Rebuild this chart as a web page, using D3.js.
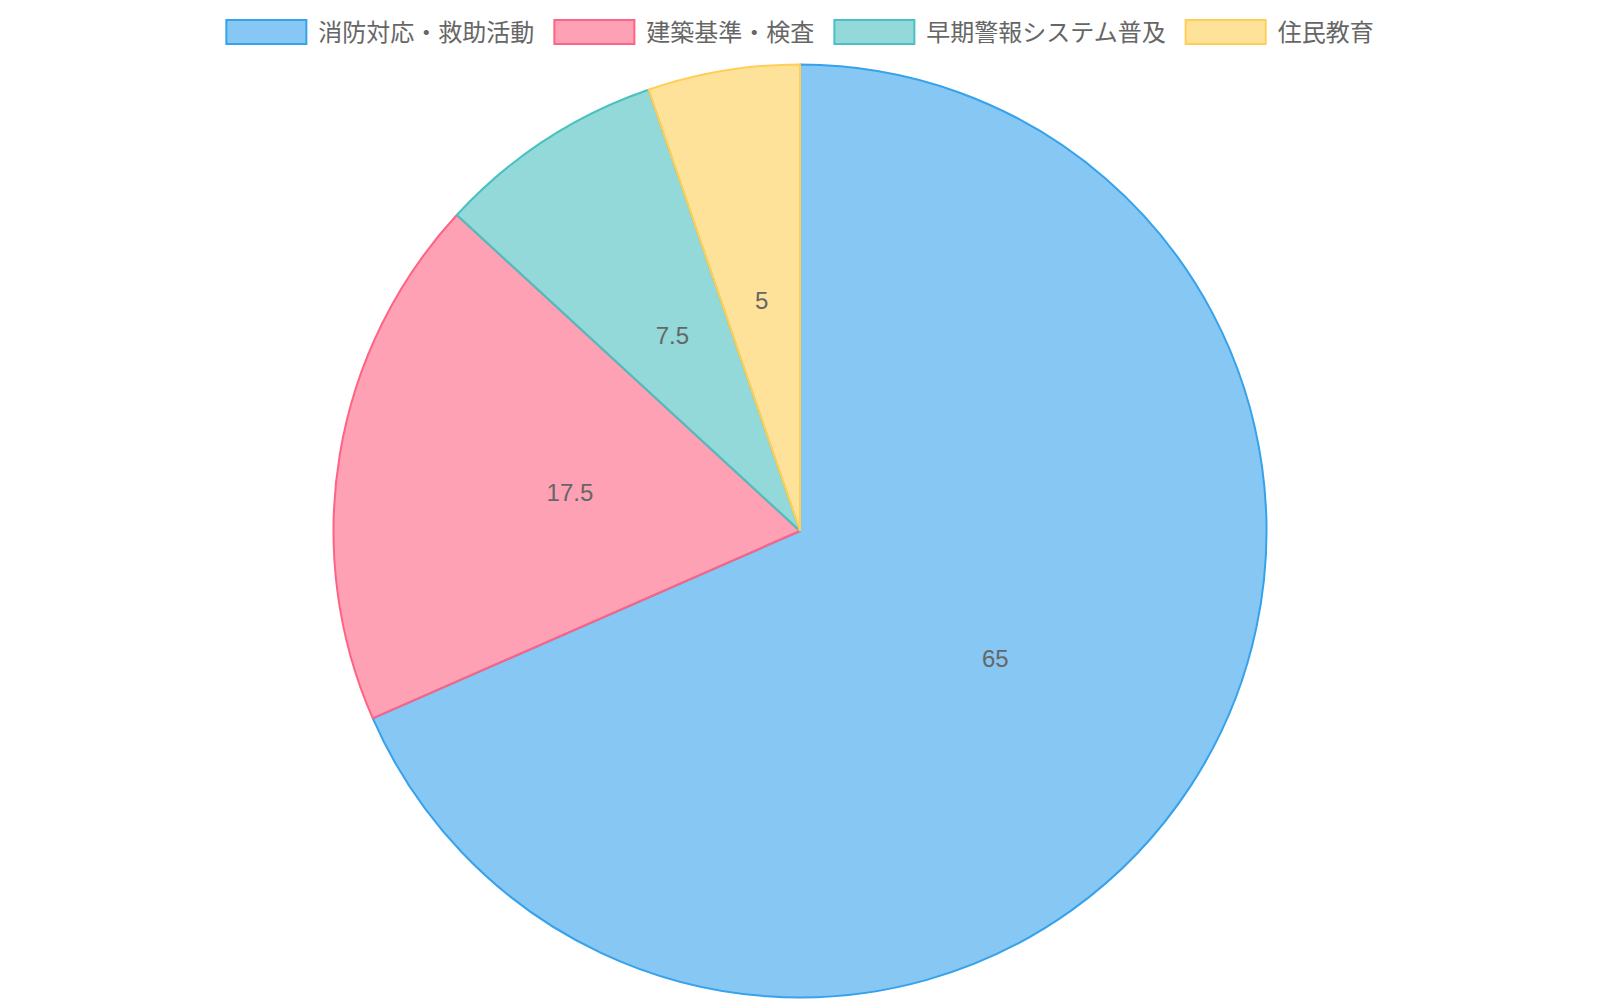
<!DOCTYPE html>
<html>
<head>
<meta charset="utf-8">
<script src="https://cdn.jsdelivr.net/npm/d3@7"></script>
<style>
  html, body { margin: 0; padding: 0; background: #ffffff; }
  svg { display: block; }
  text { font-family: "Liberation Sans", Arial, "Noto Sans CJK JP", sans-serif; fill: #666666; }
</style>
</head>
<body>
<svg id="chart" width="1600" height="1000"></svg>
<script>
const categories = ["消防対応・救助活動", "建築基準・検査", "早期警報システム普及", "住民教育"];
const values = [65, 17.5, 7.5, 5];
const fillColors = ["rgba(54,162,235,0.6)", "rgba(255,99,132,0.6)", "rgba(75,192,192,0.6)", "rgba(255,206,86,0.6)"];
const borderColors = ["rgb(54,162,235)", "rgb(255,99,132)", "rgb(75,192,192)", "rgb(255,206,86)"];

const W = 1600, H = 1000;
const svg = d3.select("#chart");

const data = categories.map((c, i) => ({ label: c, value: values[i], fill: fillColors[i], stroke: borderColors[i] }));

// Legend
const legend = svg.append("g").attr("class", "legend");
const boxW = 80, boxH = 24, boxGap = 12, itemPad = 20, legendY = 20;
const items = legend.selectAll("g.item").data(data).join("g").attr("class", "item");
items.append("rect")
  .attr("width", boxW).attr("height", boxH)
  .attr("y", legendY)
  .attr("fill", d => d.fill).attr("stroke", d => d.stroke).attr("stroke-width", 2);
items.append("text")
  .attr("y", legendY + boxH / 2)
  .attr("dominant-baseline", "central")
  .style("font-size", "24px")
  .text(d => d.label);
const widths = [];
items.each(function () {
  const tw = d3.select(this).select("text").node().getComputedTextLength();
  widths.push(boxW + boxGap + tw);
});
const total = d3.sum(widths) + itemPad * (widths.length - 1);
let xCur = (W - total) / 2;
items.each(function (d, i) {
  const g = d3.select(this);
  g.select("rect").attr("x", xCur);
  g.select("text").attr("x", xCur + boxW + boxGap);
  xCur += widths[i] + itemPad;
});

// Pie
const cx = 800, cy = 531, radius = 466.5;
const pie = d3.pie().value(d => d.value).sort(null).startAngle(0).endAngle(2 * Math.PI);
const arcs = pie(data);
const arc = d3.arc().innerRadius(0).outerRadius(radius);
const labelArc = d3.arc().innerRadius(radius / 2).outerRadius(radius / 2);

const pg = svg.append("g").attr("transform", `translate(${cx},${cy})`);
pg.selectAll("path.slice").data(arcs).join("path")
  .attr("class", "slice")
  .attr("d", arc)
  .attr("fill", d => d.data.fill)
  .attr("stroke", d => d.data.stroke)
  .attr("stroke-width", 2)
  .attr("stroke-linejoin", "bevel");

pg.selectAll("text.val").data(arcs).join("text")
  .attr("class", "val")
  .attr("transform", d => `translate(${labelArc.centroid(d)})`)
  .attr("text-anchor", "middle")
  .attr("dominant-baseline", "central")
  .style("font-size", "24px")
  .text(d => d.data.value);
</script>
</body>
</html>
